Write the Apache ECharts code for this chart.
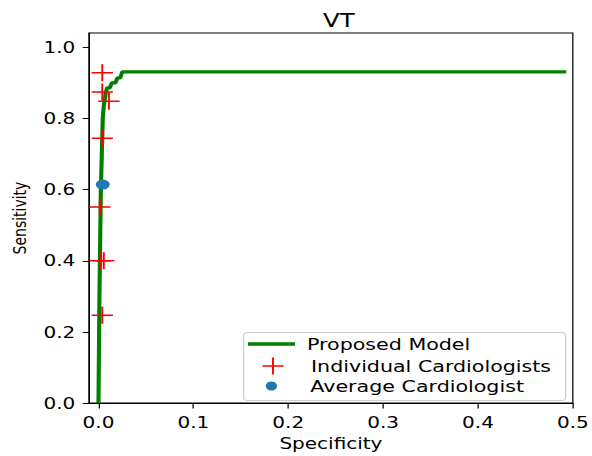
<!DOCTYPE html>
<html>
<head>
<meta charset="utf-8">
<script src="https://cdn.jsdelivr.net/npm/echarts@6/dist/echarts.min.js"></script>
<style>
html,body{margin:0;padding:0;background:#fff;overflow:hidden;width:592px;height:456px}
/* the reference figure is horizontally stretched ~1.25x */
#c{width:473.6px;height:456px;transform:scaleX(1.25);transform-origin:0 0}
</style>
</head>
<body>
<div id="c"></div>
<script>
// Data
const modelFpr = [0.000, 0.001, 0.0025, 0.0045, 0.0055, 0.007, 0.0075, 0.009, 0.012, 0.014, 0.018, 0.020, 0.023, 0.025, 0.493];
const modelTpr = [0.000, 0.300, 0.600, 0.800, 0.834, 0.858, 0.870, 0.886, 0.886, 0.900, 0.900, 0.914, 0.914, 0.931, 0.931];
const cardioFpr = [0.004, 0.004, 0.011, 0.004, 0.0014, 0.002, 0.0056, 0.004];
const cardioTpr = [0.928, 0.874, 0.848, 0.744, 0.551, 0.400, 0.400, 0.247];
const avgFpr = [0.0045];
const avgTpr = [0.614];
const xTicks = [0, 0.1, 0.2, 0.3, 0.4, 0.5];
const yTicks = [0, 0.2, 0.4, 0.6, 0.8, 1.0];
const seriesNames = ['Proposed Model', 'Individual Cardiologists', 'Average Cardiologist'];
const titleText = 'VT';
const xName = 'Specificity';
const yName = 'Sensitivity';

const plusPath = 'path://M-1,-0.09H1V0.09H-1Z M-0.09,-1H0.09V1H-0.09Z';
const font = 'DejaVu Sans';

const chart = echarts.init(document.getElementById('c'), null, {renderer: 'svg'});
chart.setOption({
  animation: false,
  backgroundColor: '#fff',
  title: {
    text: titleText, left: 266, top: 5, textAlign: 'center',
    textStyle: {fontFamily: font, fontSize: 19.5, fontWeight: 'normal', color: '#000'}
  },
  grid: {left: 71.2, right: 12.8, top: 33, bottom: 49, show: true, borderColor: '#000', borderWidth: 1, backgroundColor: 'transparent'},
  xAxis: {
    type: 'value', min: -0.01, max: 0.5,
    name: xName, nameLocation: 'middle', nameGap: 28,
    nameTextStyle: {fontFamily: font, fontSize: 16, color: '#000'},
    axisLine: {show: true, onZero: false, lineStyle: {color: '#000', width: 1}},
    axisTick: {show: true, length: 5.5, customValues: xTicks, lineStyle: {color: '#000'}},
    axisLabel: {customValues: xTicks, margin: 11, fontFamily: font, fontSize: 16, color: '#000',
      formatter: v => v.toFixed(1)},
    splitLine: {show: false}
  },
  yAxis: {
    type: 'value', min: 0, max: 1.04,
    name: yName, nameLocation: 'middle', nameGap: 48, nameRotate: 90,
    nameTextStyle: {fontFamily: font, fontSize: 14, color: '#000'},
    axisLine: {show: true, onZero: false, lineStyle: {color: '#000', width: 1}},
    axisTick: {show: true, length: 5, customValues: yTicks, lineStyle: {color: '#000'}},
    axisLabel: {customValues: yTicks, margin: 11, fontFamily: font, fontSize: 16, color: '#000',
      formatter: v => v.toFixed(1)},
    splitLine: {show: false}
  },
  legend: [
    {data: [{name: seriesNames[0], icon: 'rect'}], orient: 'vertical', left: 198.4, top: 334, z: 10,
     itemWidth: 37.6, itemHeight: 3.5, padding: 0,
     textStyle: {fontFamily: font, fontSize: 16.5, lineHeight: 20, color: '#000', padding: [0, 0, 0, 4.6]}},
    {data: [{name: seriesNames[1], icon: plusPath}], orient: 'vertical', left: 209.9, top: 356, z: 10,
     itemWidth: 17, itemHeight: 17, padding: 0,
     textStyle: {fontFamily: font, fontSize: 16.5, lineHeight: 20, color: '#000', padding: [0, 0, 0, 16.9]}},
    {data: [{name: seriesNames[2], icon: 'circle'}], orient: 'vertical', left: 212.6, top: 376, z: 10,
     itemWidth: 10, itemHeight: 9, padding: 0,
     textStyle: {fontFamily: font, fontSize: 16.5, lineHeight: 20, color: '#000', padding: [0, 0, 0, 21.2]}}
  ],
  graphic: [{
    type: 'rect', left: 194.4, top: 332, z: 3,
    shape: {width: 257.6, height: 68, r: 3},
    style: {fill: 'rgba(255,255,255,0.85)', stroke: '#cccccc', lineWidth: 1}
  }],
  series: [
    {
      name: seriesNames[0], type: 'line', showSymbol: false, symbol: 'none',
      data: modelFpr.map((x, i) => [x, modelTpr[i]]),
      lineStyle: {color: '#008000', width: 3.3}, itemStyle: {color: '#008000'}, z: 2
    },
    {
      name: seriesNames[1], type: 'scatter', symbol: plusPath, symbolSize: 17,
      data: cardioFpr.map((x, i) => [x, cardioTpr[i]]),
      itemStyle: {color: '#ff0000', opacity: 1}, z: 3
    },
    {
      name: seriesNames[2], type: 'scatter', symbol: 'circle', symbolSize: [11, 10],
      data: avgFpr.map((x, i) => [x, avgTpr[i]]),
      itemStyle: {color: '#1f77b4', opacity: 1}, z: 4
    }
  ]
});
</script>
</body>
</html>
